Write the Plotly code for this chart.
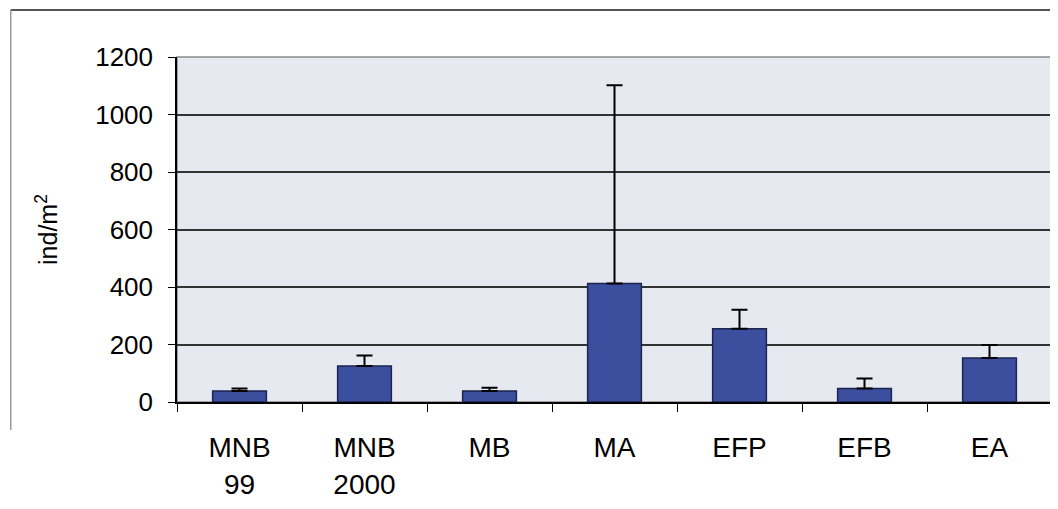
import plotly.graph_objects as go

categories = ["MNB<br>99", "MNB<br>2000", "MB", "MA", "EFP", "EFB", "EA"]
means = [38, 125, 38, 412, 255, 47, 153]
errors = [9, 37, 12, 690, 66, 35, 45]
y_ticks = [0, 200, 400, 600, 800, 1000, 1200]

fig = go.Figure()
fig.add_trace(go.Bar(
    x=categories, y=means,
    marker=dict(color="#3b4f9e", line=dict(color="#1c2450", width=1.5)),
    error_y=dict(type="data", array=errors, arrayminus=[0]*len(errors),
                 color="black", thickness=2, width=8, visible=True),
))

fig.add_shape(type="rect", xref="x domain", yref="y domain", x0=0, x1=1, y0=0, y1=1,
              line=dict(color="#8a8a8a", width=1.5), layer="below")
fig.add_shape(type="line", xref="paper", yref="paper", x0=-0.19, x1=1.0, y0=1.136, y1=1.136,
              line=dict(color="#555555", width=2))
fig.add_shape(type="line", xref="paper", yref="paper", x0=-0.19, x1=-0.19, y0=1.136, y1=-0.081,
              line=dict(color="#999999", width=1.5))

font = "Liberation Sans, Arial, sans-serif"
fig.update_layout(
    width=1050, height=501,
    margin=dict(l=169, r=6, t=49, b=107),
    paper_bgcolor="white", plot_bgcolor="#e7e9f1",
    bargap=0.57, showlegend=False,
    font=dict(family=font, size=26, color="black"),
    xaxis=dict(showline=True, linecolor="black", linewidth=1.5,
               ticks="outside", ticklen=8, tickcolor="black", tickson="boundaries",
               showgrid=False, tickfont=dict(size=28), ticklabelstandoff=20),
    yaxis=dict(range=[0, 1200], tickvals=y_ticks, showline=True, linecolor="black", linewidth=1.5,
               ticks="outside", ticklen=7, tickcolor="black", ticklabelstandoff=10,
               showgrid=True, gridcolor="#333333", gridwidth=1.6,
               zeroline=False, tickfont=dict(size=26),
               title=dict(text="ind/m<sup>2</sup>", font=dict(size=25), standoff=30)),
)

fig.write_html("out.html")
